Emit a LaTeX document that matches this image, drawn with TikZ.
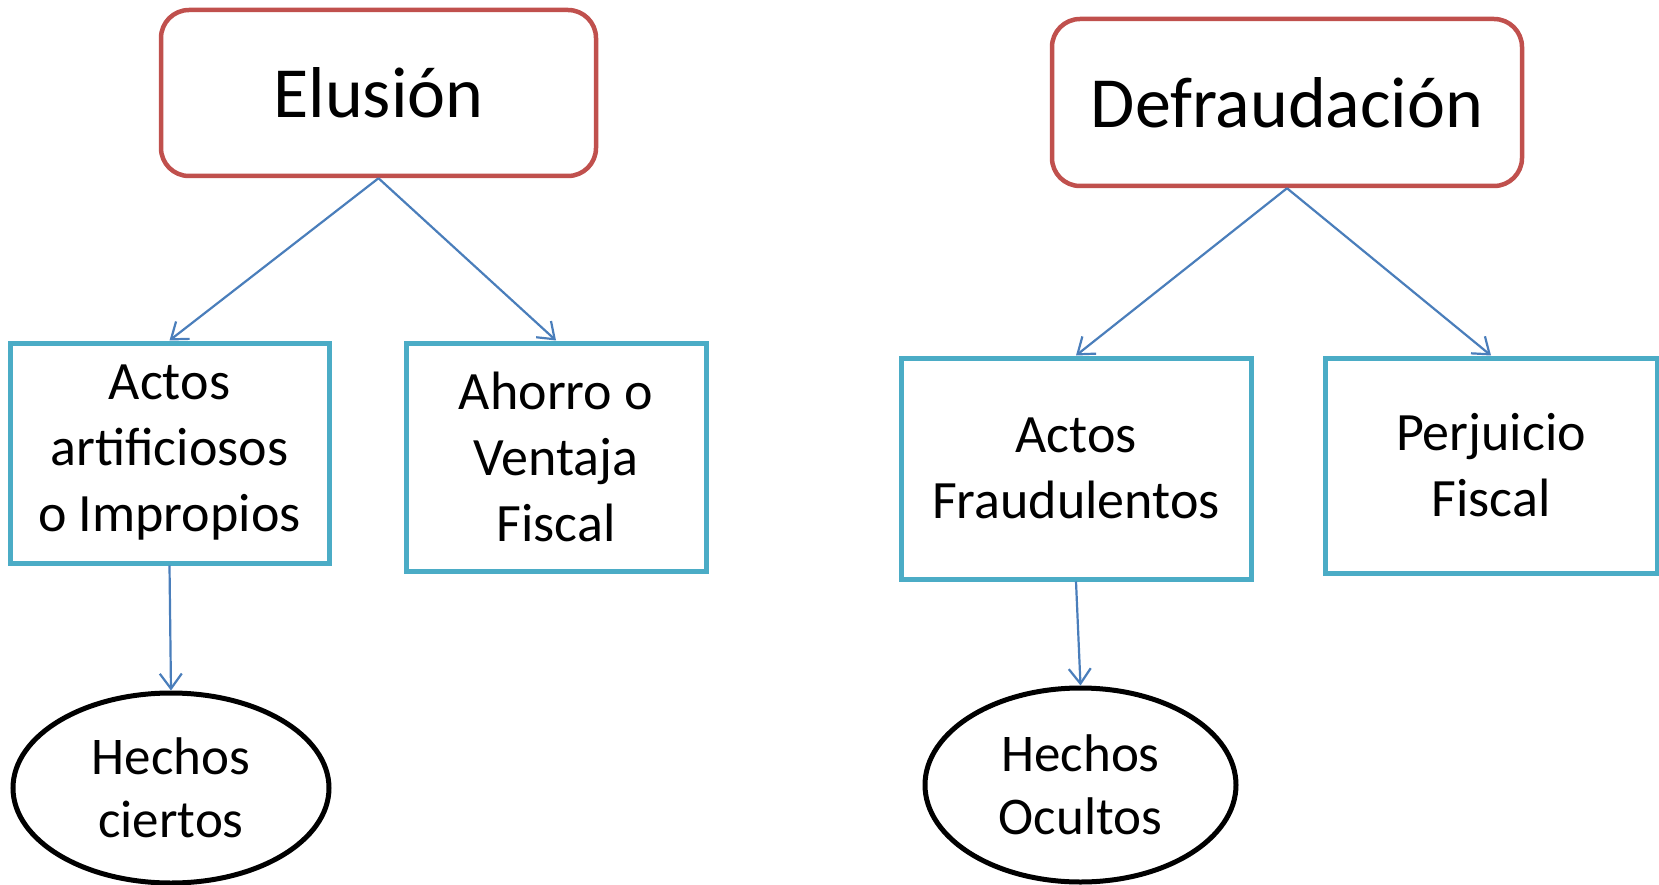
\documentclass[tikz,border=0pt]{standalone}
\usepackage{fontspec}
\setmainfont{Carlito}
\usetikzlibrary{arrows.meta,shapes.geometric}
\definecolor{redb}{HTML}{C0504D}
\definecolor{blueb}{HTML}{4BACC6}
\definecolor{arrowc}{HTML}{4A7EBB}
\tikzset{
  parentbox/.style={draw=redb, line width=4.5pt, rounded corners=28pt, fill=white, inner sep=0pt,
    font=\fontsize{72}{86}\selectfont},
  childbox/.style={draw=blueb, line width=5pt, fill=white, inner sep=0pt, align=center,
    font=\fontsize{54}{66}\selectfont},
  leaf/.style={draw=black, ellipse, line width=5pt, fill=white, inner sep=0pt, align=center,
    font=\fontsize{53}{63}\selectfont},
  link/.style={draw=arrowc, line width=2.2pt, -{Straight Barb[length=15pt,width=22pt,line width=2.2pt]}}
}
\begin{document}
\begin{tikzpicture}[x=1pt,y=-1pt]
\useasboundingbox (0,0) rectangle (1659,885);
% parents
\node[parentbox, minimum width=435pt, minimum height=166pt] (elu) at (378.5,93) {Elusión};
\node[parentbox, minimum width=470pt, minimum height=167pt] (def) at (1287,102.5) {Defraudación};
% children
\node[childbox, minimum width=319pt, minimum height=220pt] (art) at (169.5,453) {Actos\\artificiosos\\o Impropios};
\node[childbox, minimum width=300pt, minimum height=228pt] (aho) at (556,457) {Ahorro o\\Ventaja\\Fiscal};
\node[childbox, minimum width=350pt, minimum height=221pt] (fra) at (1076,468.5) {Actos\\Fraudulentos};
\node[childbox, minimum width=332pt, minimum height=215pt] (per) at (1491,465.5) {Perjuicio\\Fiscal};
% leaves
\node[leaf, minimum width=316pt, minimum height=190pt] (cie) at (171,788) {Hechos\\ciertos};
\node[leaf, minimum width=311pt, minimum height=194pt] (ocu) at (1080.5,785) {Hechos\\Ocultos};
% connectors
\draw[link] (elu.south) -- (art.north);
\draw[link] (elu.south) -- (aho.north);
\draw[link] (def.south) -- (fra.north);
\draw[link] (def.south) -- (per.north);
\draw[link] (art.south) -- (cie.north);
\draw[link] (fra.south) -- (ocu.north);
\end{tikzpicture}
\end{document}
